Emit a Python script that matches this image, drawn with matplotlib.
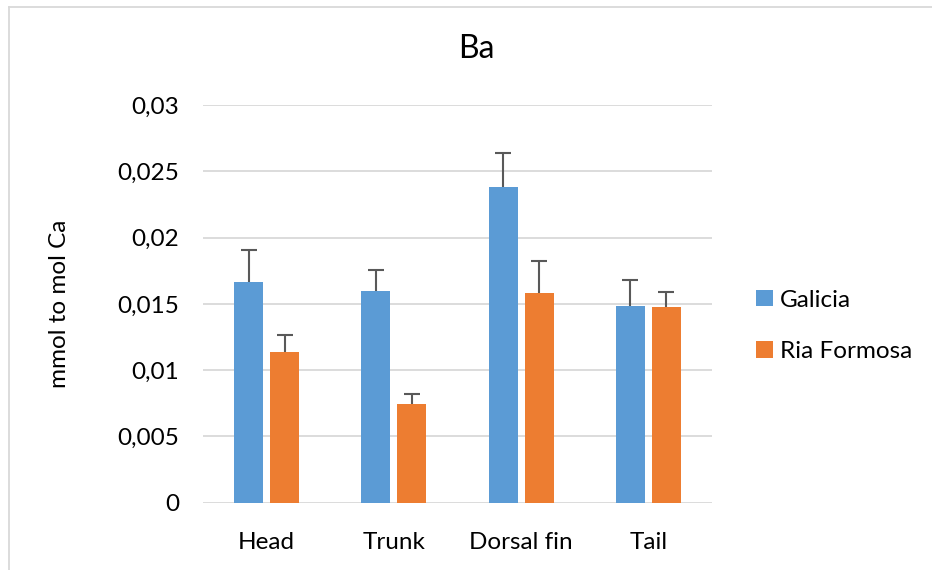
import matplotlib
matplotlib.use("Agg")
import matplotlib.pyplot as plt
import numpy as np
from matplotlib.lines import Line2D

categories = ["Head", "Trunk", "Dorsal fin", "Tail"]
galicia = [0.01662, 0.01597, 0.02379, 0.01483]
galicia_err = [0.00247, 0.00155, 0.00257, 0.00196]
ria = [0.01138, 0.00745, 0.01581, 0.01475]
ria_err = [0.00129, 0.00074, 0.00244, 0.00118]
yticks = [0, 0.005, 0.01, 0.015, 0.02, 0.025, 0.03]
ytick_labels = ["0", "0,005", "0,01", "0,015", "0,02", "0,025", "0,03"]

plt.rcParams['font.family'] = ['Lato', 'DejaVu Sans']
FS = 17.5

fig = plt.figure(figsize=(9.32, 5.70), dpi=100)
ax = fig.add_axes([0.2178, 0.118, 0.5462, 0.6978])

x = np.arange(len(categories))
w = 0.228
off = 0.142
ekw = dict(ecolor="#595959", elinewidth=1.5, capsize=6, capthick=1.5)
ax.bar(x - off, galicia, w, color="#5b9bd5", label="Galicia", zorder=3)
e1 = ax.errorbar(x - off, galicia, yerr=[np.zeros(4), galicia_err], fmt="none", zorder=4, **ekw)
ax.bar(x + off, ria, w, color="#ed7d31", label="Ria Formosa", zorder=3)
e2 = ax.errorbar(x + off, ria, yerr=[np.zeros(4), ria_err], fmt="none", zorder=4, **ekw)
for e in (e1, e2):
    e[1][0].set_visible(False)

ax.set_xlim(-0.5, 3.5)
ax.set_ylim(0, 0.03)
ax.set_yticks(yticks)
ax.set_yticklabels(ytick_labels, fontsize=FS)
ax.set_xticks(x)
ax.set_xticklabels(categories, fontsize=FS)
ax.tick_params(length=0)
ax.tick_params(axis="x", pad=21)
ax.tick_params(axis="y", pad=17)
ax.grid(axis="y", color="#d9d9d9", linewidth=1.3, zorder=0)
for s in ax.spines.values():
    s.set_visible(False)
ax.set_ylabel("mmol to mol Ca", fontsize=FS, labelpad=34)
fig.text(476 / 932, 1 - 48.5 / 570, "Ba", fontsize=23, ha="center", va="center")

ax.legend(loc="center left", bbox_to_anchor=(1.044, 0.445), frameon=False,
          fontsize=FS, handlelength=0.68, handleheight=0.68,
          labelspacing=1.25, handletextpad=0.3)

bx = 8.5 / 932
by = 1 - 6.5 / 570
fig.add_artist(Line2D([bx, bx], [0, by], transform=fig.transFigure, color="#d9d9d9", linewidth=1.3))
fig.add_artist(Line2D([bx, 1], [by, by], transform=fig.transFigure, color="#d9d9d9", linewidth=1.3))
fig.savefig("out.png", dpi=100)
